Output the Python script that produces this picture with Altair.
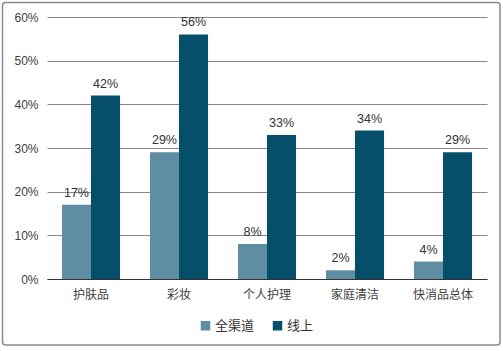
import altair as alt
import pandas as pd

categories = ["护肤品", "彩妆", "个人护理", "家庭清洁", "快消品总体"]
series = ["全渠道", "线上"]
all_channel = [17, 29, 8, 2, 4]
online = [42, 56, 33, 34, 29]
y_ticks = [0, 0.1, 0.2, 0.3, 0.4, 0.5, 0.6]

rows = []
for c, a, o in zip(categories, all_channel, online):
    rows.append({"cat": c, "series": series[0], "v": a / 100})
    rows.append({"cat": c, "series": series[1], "v": o / 100})
df = pd.DataFrame(rows)

FONT = "Liberation Sans, Noto Sans CJK SC, sans-serif"

x = alt.X("cat:N", sort=categories, title=None,
          scale=alt.Scale(paddingInner=0.34, paddingOuter=0.17),
          axis=alt.Axis(labelAngle=0, ticks=False, domainColor="#333333",
                        labelFontSize=12, labelColor="#404040", labelPadding=10,
                        labelFont=FONT))
xo = alt.XOffset("series:N", sort=series, scale=alt.Scale(paddingInner=0, paddingOuter=0))
y = alt.Y("v:Q", title=None,
          scale=alt.Scale(domain=[0, 0.6], nice=False),
          axis=alt.Axis(values=y_ticks, format=".0%", domain=False, ticks=False,
                        gridColor="#888888", gridWidth=1, labelFontSize=12,
                        labelColor="#404040", labelPadding=9, labelFont=FONT))

bars = alt.Chart(df).mark_bar().encode(
    x=x, xOffset=xo, y=y,
    color=alt.Color("series:N", sort=series, title=None,
                    scale=alt.Scale(domain=series, range=["#5f8ea4", "#064f6b"]),
                    legend=alt.Legend(orient="none", legendX=152, legendY=302,
                                      direction="horizontal", symbolType="square",
                                      symbolSize=90, symbolStrokeWidth=0,
                                      labelFontSize=13, labelColor="#333333",
                                      labelFont=FONT, columnPadding=16,
                                      symbolOffset=0, labelOffset=3)),
)

labels = alt.Chart(df).mark_text(dy=-12, fontSize=12.5, color="#333333", font=FONT).encode(
    x=x, xOffset=xo, y=y,
    text=alt.Text("v:Q", format=".0%"),
)

border = alt.Chart(alt.Data(values=[{"a": 1}])).mark_rect(
    filled=False, stroke="#8c8c8c", strokeWidth=1.5, cornerRadius=3
).encode(x=alt.value(-44.5), x2=alt.value(453), y=alt.value(-14.5), y2=alt.value(328))

chart = alt.layer(border, bars, labels).properties(
    width=440, height=262,
    padding={"left": 47, "top": 17, "right": 16, "bottom": 72},
    autosize=alt.AutoSizeParams(type="none"),
    background="white",
).configure_view(stroke=None)

chart.save("out.html", embed_options={"renderer": "svg", "actions": False})
